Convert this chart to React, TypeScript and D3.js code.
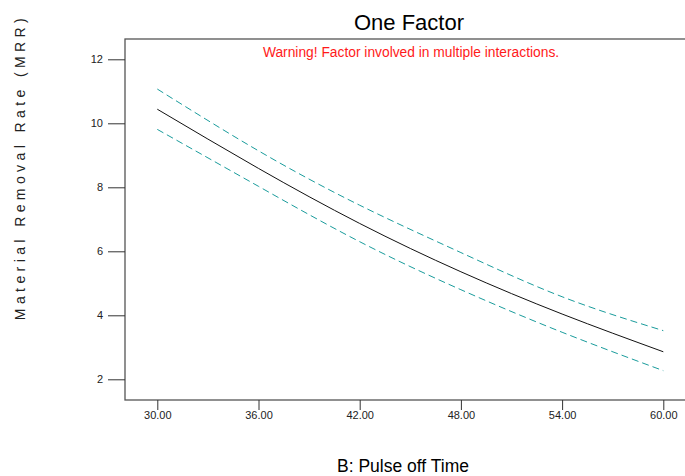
import { useEffect, useRef } from "react";
import * as d3 from "d3";

// Pulse off Time (B) vs predicted MRR with confidence band
const pulseOff = [30, 36, 42, 48, 54, 60];
const mrrMean = [10.44, 8.59, 6.87, 5.36, 4.04, 2.86];
const mrrUpper = [11.07, 9.14, 7.44, 5.96, 4.58, 3.52];
const mrrLower = [9.81, 8.03, 6.3, 4.8, 3.47, 2.27];
const xTicks = [30, 36, 42, 48, 54, 60];
const yTicks = [2, 4, 6, 8, 10, 12];

const App = () => {
  const svgRef = useRef<SVGSVGElement>(null);

  useEffect(() => {
    const svg = d3.select(svgRef.current);
    svg.selectAll("*").remove();

    const left = 125;
    const top = 39;
    const bottom = 400;
    const right = 700;

    const x = d3.scaleLinear().domain([30, 60]).range([157.3, 663.3]);
    const y = d3.scaleLinear().domain([2, 12]).range([379.3, 59.3]);

    const font = "Arial, 'Liberation Sans', sans-serif";

    // frame
    svg
      .append("rect")
      .attr("x", left)
      .attr("y", top)
      .attr("width", right - left)
      .attr("height", bottom - top)
      .attr("fill", "none")
      .attr("stroke", "#555")
      .attr("stroke-width", 1.3);

    // x axis
    const xAxis = svg
      .append("g")
      .attr("transform", `translate(0,${bottom})`)
      .call(
        d3
          .axisBottom(x)
          .tickValues(xTicks)
          .tickSize(10)
          .tickSizeOuter(0)
          .tickFormat((d) => d3.format(".2f")(d as number))
      );
    xAxis.select(".domain").remove();
    xAxis.selectAll("line").attr("stroke", "#333");
    xAxis
      .selectAll("text")
      .attr("font-family", font)
      .attr("font-size", 11)
      .attr("fill", "#222")
      .attr("dy", "0.5em");

    // y axis
    const yAxis = svg
      .append("g")
      .attr("transform", `translate(${left},0)`)
      .call(d3.axisLeft(y).tickValues(yTicks).tickSize(17).tickSizeOuter(0));
    yAxis.select(".domain").remove();
    yAxis.selectAll("line").attr("stroke", "#333");
    yAxis
      .selectAll("text")
      .attr("font-family", font)
      .attr("font-size", 11)
      .attr("fill", "#222")
      .attr("x", -22);

    const line = d3
      .line<number>()
      .x((_, i) => x(pulseOff[i]))
      .y((d) => y(d))
      .curve(d3.curveNatural);

    [mrrUpper, mrrLower].forEach((s) => {
      svg
        .append("path")
        .attr("d", line(s))
        .attr("fill", "none")
        .attr("stroke", "#1a9c9c")
        .attr("stroke-width", 1)
        .attr("stroke-dasharray", "7,4");
    });

    svg
      .append("path")
      .attr("d", line(mrrMean))
      .attr("fill", "none")
      .attr("stroke", "#111")
      .attr("stroke-width", 1);

    // texts
    svg
      .append("text")
      .attr("x", 409)
      .attr("y", 30)
      .attr("text-anchor", "middle")
      .attr("font-family", font)
      .attr("font-size", 22)
      .text("One Factor");

    svg
      .append("text")
      .attr("x", 411)
      .attr("y", 57)
      .attr("text-anchor", "middle")
      .attr("font-family", font)
      .attr("font-size", 13.8)
      .attr("fill", "#ff1a1a")
      .text("Warning! Factor involved in multiple interactions.");

    svg
      .append("text")
      .attr("x", 403)
      .attr("y", 472)
      .attr("text-anchor", "middle")
      .attr("font-family", font)
      .attr("font-size", 17.5)
      .text("B: Pulse off Time");

    svg
      .append("text")
      .attr("transform", "translate(25,167) rotate(-90)")
      .attr("text-anchor", "middle")
      .attr("font-family", font)
      .attr("font-size", 14)
      .attr("letter-spacing", 4.4)
      .attr("fill", "#222")
      .text("Material Removal Rate (MRR)");
  }, []);

  return (
    <svg
      ref={svgRef}
      width={685}
      height={476}
      style={{ position: "absolute", left: 0, top: 0, background: "#fff" }}
    ></svg>
  );
};

export default App;
